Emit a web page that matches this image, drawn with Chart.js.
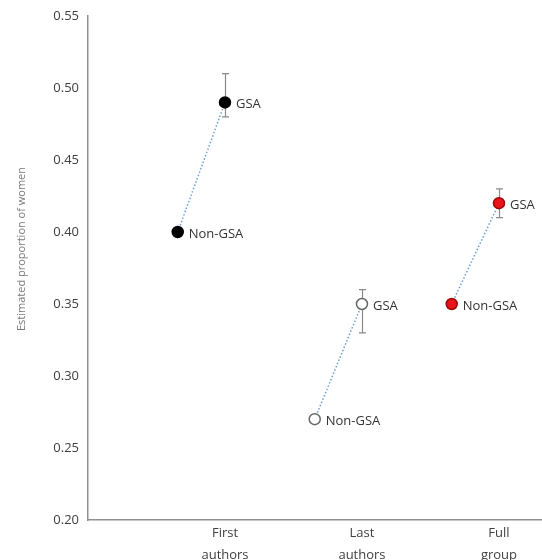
<!DOCTYPE html>
<html>
<head>
<meta charset="utf-8">
<script src="https://cdn.jsdelivr.net/npm/chart.js@4/dist/chart.umd.min.js"></script>
<style>
  html, body { margin: 0; padding: 0; background: #fff; overflow: hidden; }
  canvas { display: block; }
</style>
</head>
<body>
<canvas id="c" width="542" height="560"></canvas>
<script>
// Groups along the x axis
const categories = [['First', 'authors'], ['Last', 'authors'], ['Full', 'group']];
// Estimated proportion of women
const nonGsa = [0.40, 0.27, 0.35];
const gsa = [0.49, 0.35, 0.42];
const gsaLow = [0.48, 0.33, 0.41];
const gsaHigh = [0.51, 0.36, 0.43];
const pointLabels = ['Non-GSA', 'GSA'];
const yTitle = 'Estimated proportion of women';

// marker styles per group
const fills = ['#000000', '#ffffff', '#e8141a'];
const borders = ['#000000', '#666666', '#9a0a0a'];

const NON_OFFSET = -0.345;

const datasets = categories.map((c, i) => ({
  data: [
    { x: i + 1 + NON_OFFSET, y: nonGsa[i], label: pointLabels[0] },
    { x: i + 1, y: gsa[i], label: pointLabels[1], lo: gsaLow[i], hi: gsaHigh[i] }
  ],
  borderColor: '#6a9fdc',
  borderWidth: 1.5,
  borderDash: [1.5, 2],
  pointRadius: 5.5,
  pointBackgroundColor: fills[i],
  pointBorderColor: borders[i],
  pointBorderWidth: 1.5,
  tension: 0,
  clip: false
}));

const decor = {
  id: 'decor',
  beforeDatasetsDraw(chart) {
    const { ctx, scales: { x, y } } = chart;
    ctx.save();
    ctx.strokeStyle = '#8a8a8a';
    ctx.lineWidth = 1.2;
    chart.data.datasets.forEach(ds => {
      ds.data.forEach(p => {
        if (p.lo === undefined) return;
        const px = Math.round(x.getPixelForValue(p.x)) + 0.5;
        const yl = y.getPixelForValue(p.lo);
        const yh = y.getPixelForValue(p.hi);
        ctx.beginPath();
        ctx.moveTo(px, yl); ctx.lineTo(px, yh);
        ctx.moveTo(px - 3.5, yl); ctx.lineTo(px + 3.5, yl);
        ctx.moveTo(px - 3.5, yh); ctx.lineTo(px + 3.5, yh);
        ctx.stroke();
      });
    });
    ctx.restore();
  },
  afterDatasetsDraw(chart) {
    const { ctx, scales: { x, y } } = chart;
    ctx.save();
    ctx.fillStyle = '#333333';
    ctx.font = '13px "Open Sans", sans-serif';
    ctx.textBaseline = 'middle';
    ctx.textAlign = 'left';
    chart.data.datasets.forEach(ds => {
      ds.data.forEach(p => {
        const px = x.getPixelForValue(p.x);
        const py = y.getPixelForValue(p.y);
        ctx.fillText(p.label, px + 11, py + 2);
      });
    });
    // y axis title
    ctx.fillStyle = '#7a7a7a';
    ctx.font = '11px "Open Sans", sans-serif';
    ctx.textAlign = 'center';
    ctx.translate(22, 249);
    ctx.rotate(-Math.PI / 2);
    ctx.fillText(yTitle, 0, 0);
    ctx.restore();
  }
};

new Chart(document.getElementById('c'), {
  type: 'line',
  data: { datasets },
  options: {
    responsive: false,
    animation: false,
    layout: { autoPadding: false, padding: { top: 16, right: 0, left: 0, bottom: 0 } },
    plugins: { legend: { display: false }, tooltip: { enabled: false } },
    scales: {
      x: {
        type: 'linear',
        min: 0,
        max: 3.314,
        afterBuildTicks(scale) { scale.ticks = [{ value: 1 }, { value: 2 }, { value: 3 }]; },
        afterFit(scale) { scale.height = 40; scale.paddingLeft = 0; scale.paddingRight = 0; },
        grid: { display: false, drawTicks: false },
        border: { display: true, color: '#909090', width: 1.5 },
        ticks: {
          autoSkip: false,
          maxRotation: 0,
          padding: 3,
          color: '#404040',
          font: { family: '"Open Sans", sans-serif', size: 13, lineHeight: 1.65 },
          callback: v => categories[v - 1]
        }
      },
      y: {
        min: 0.2,
        max: 0.55,
        afterFit(scale) { scale.width = 88; scale.paddingTop = 0; scale.paddingBottom = 0; },
        grid: { display: false, drawTicks: false },
        border: { display: true, color: '#909090', width: 1.5 },
        ticks: {
          stepSize: 0.05,
          padding: 9,
          color: '#404040',
          font: { family: '"Open Sans", sans-serif', size: 13 },
          callback: v => v.toFixed(2)
        }
      }
    }
  },
  plugins: [decor]
});
</script>
</body>
</html>
